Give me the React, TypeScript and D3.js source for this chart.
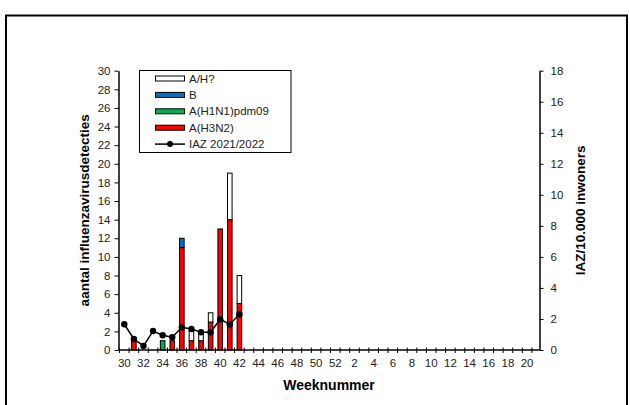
import React, { useEffect, useRef } from "react";
import * as d3 from "d3";

// all weeks on the x axis (season 2021/2022)
const weeks = [
  "30", "31", "32", "33", "34", "35", "36", "37", "38", "39", "40", "41", "42", "43", "44", "45", "46", "47",
  "48", "49", "50", "51", "52", "1", "2", "3", "4", "5", "6", "7", "8", "9", "10", "11", "12", "13", "14",
  "15", "16", "17", "18", "19", "20", "21",
];
const labelWeeks = [
  "30", "32", "34", "36", "38", "40", "42", "44", "46", "48", "50", "52",
  "2", "4", "6", "8", "10", "12", "14", "16", "18", "20",
];

// weeks with reported data
const dataWeeks = ["30", "31", "32", "33", "34", "35", "36", "37", "38", "39", "40", "41", "42"];
const aH3N2 = [0, 1, 0, 0, 0, 1, 11, 1, 1, 3, 13, 14, 5];
const aH1N1 = [0, 0, 0, 0, 1, 0, 0, 0, 0, 0, 0, 0, 0];
const bVals = [0, 0, 0, 0, 0, 0, 1, 0, 0, 0, 0, 0, 0];
const aUnknown = [0, 0, 0, 0, 0, 0, 0, 1, 1, 1, 0, 5, 3];
const iaz = [1.66, 0.71, 0.26, 1.22, 0.95, 0.82, 1.46, 1.35, 1.14, 1.14, 1.98, 1.65, 2.3];

const leftTicks = [0, 2, 4, 6, 8, 10, 12, 14, 16, 18, 20, 22, 24, 26, 28, 30];
const rightTicks = [0, 2, 4, 6, 8, 10, 12, 14, 16, 18];

const seriesKeys = ["aH3N2", "aH1N1", "b", "unknown"];
const seriesColors: Record<string, string> = {
  aH3N2: "#ff0000",
  aH1N1: "#00b050",
  b: "#0070c0",
  unknown: "#ffffff",
};
const legendItems = [
  { label: "A/H?", key: "unknown" },
  { label: "B", key: "b" },
  { label: "A(H1N1)pdm09", key: "aH1N1" },
  { label: "A(H3N2)", key: "aH3N2" },
  { label: "IAZ 2021/2022", key: "line" },
];

const FONT = "'Liberation Sans', Arial, sans-serif";

const App = () => {
  const ref = useRef<SVGSVGElement>(null);

  useEffect(() => {
    const svg = d3.select(ref.current);
    svg.selectAll("*").remove();

    const left = 118.5, right = 539.5, top = 70.7, bottom = 350;

    const x = d3.scaleBand().domain(weeks).range([119.5, 541.5]).paddingInner(0.42).paddingOuter(0.21);
    const yL = d3.scaleLinear().domain([0, 30]).range([bottom, top]);
    const yR = d3.scaleLinear().domain([0, 18]).range([bottom, top]);

    // outer frame
    svg.append("path")
      .attr("d", "M6,405 L6,15.5 L627,15.5 L627,405")
      .attr("fill", "none")
      .attr("stroke", "#000")
      .attr("stroke-width", 2);

    const table = dataWeeks.map((w, i) => ({
      week: w,
      aH3N2: aH3N2[i],
      aH1N1: aH1N1[i],
      b: bVals[i],
      unknown: aUnknown[i],
    }));
    const stacked = d3.stack<any>().keys(seriesKeys)(table);

    const bw = x.bandwidth();
    stacked.forEach((layer) => {
      svg.append("g")
        .selectAll("rect")
        .data(layer.filter((d) => d[1] - d[0] > 0))
        .enter()
        .append("rect")
        .attr("x", (d) => (x(d.data.week) as number) + 0.5)
        .attr("y", (d) => yL(d[1]))
        .attr("width", bw - 1)
        .attr("height", (d) => yL(d[0]) - yL(d[1]))
        .attr("fill", seriesColors[layer.key])
        .attr("stroke", "#000")
        .attr("stroke-width", 1);
    });

    // left axis
    const gL = svg.append("g")
      .attr("transform", `translate(${left},0)`)
      .call(d3.axisLeft(yL).tickValues(leftTicks).tickSize(4).tickSizeOuter(0).tickPadding(4));
    // right axis
    const gR = svg.append("g")
      .attr("transform", `translate(${right},0)`)
      .call(d3.axisRight(yR).tickValues(rightTicks).tickSize(4).tickSizeOuter(0).tickPadding(7));
    // bottom axis
    const gB = svg.append("g")
      .attr("transform", `translate(0,${bottom})`)
      .call(
        d3.axisBottom(x)
          .tickValues(labelWeeks)
          .tickSize(0)
          .tickSizeOuter(0)
          .tickPadding(9)
      );
    gB.select("path").attr("d", `M${left},0H${right}`);
    // category boundary ticks on the bottom axis
    svg.append("g")
      .selectAll("line")
      .data(weeks)
      .enter()
      .append("line")
      .attr("x1", (d) => (x(d) as number) - (x.step() - bw) / 2)
      .attr("x2", (d) => (x(d) as number) - (x.step() - bw) / 2)
      .attr("y1", bottom - 2.5)
      .attr("y2", bottom + 3)
      .attr("stroke", "#000")
      .attr("stroke-width", 1);

    [gL, gR, gB].forEach((g) => {
      g.selectAll("path").attr("stroke", "#000").attr("stroke-width", 1.5);
      g.selectAll("line").attr("stroke", "#000");
      g.selectAll("text").attr("font-family", FONT).attr("font-size", 11.5).attr("fill", "#222");
    });

    // IAZ line
    const pts = dataWeeks.map((w, i) => ({ week: w, v: iaz[i] }));
    const line = d3.line<any>()
      .x((d) => (x(d.week) as number) + bw / 2)
      .y((d) => yR(d.v));
    svg.append("path")
      .datum(pts)
      .attr("d", line)
      .attr("fill", "none")
      .attr("stroke", "#000")
      .attr("stroke-width", 1.5);
    svg.append("g")
      .selectAll("circle")
      .data(pts)
      .enter()
      .append("circle")
      .attr("cx", (d) => (x(d.week) as number) + bw / 2)
      .attr("cy", (d) => yR(d.v))
      .attr("r", 3.2)
      .attr("fill", "#000");

    // axis titles
    svg.append("text")
      .attr("transform", `translate(89,${(top + bottom) / 2}) rotate(-90)`)
      .attr("text-anchor", "middle")
      .attr("font-family", FONT)
      .attr("font-weight", "bold")
      .attr("font-size", 13.5)
      .text("aantal influenzavirusdetecties");
    svg.append("text")
      .attr("transform", `translate(585,${(top + bottom) / 2}) rotate(-90)`)
      .attr("text-anchor", "middle")
      .attr("font-family", FONT)
      .attr("font-weight", "bold")
      .attr("font-size", 13.5)
      .text("IAZ/10.000 inwoners");
    svg.append("text")
      .attr("x", (left + right) / 2)
      .attr("y", 390)
      .attr("text-anchor", "middle")
      .attr("font-family", FONT)
      .attr("font-weight", "bold")
      .attr("font-size", 14)
      .text("Weeknummer");

    // legend
    const lg = svg.append("g");
    lg.append("rect")
      .attr("x", 139.5)
      .attr("y", 70.5)
      .attr("width", 151.5)
      .attr("height", 82)
      .attr("fill", "#fff")
      .attr("stroke", "#000")
      .attr("stroke-width", 1);
    legendItems.forEach((it, i) => {
      const cy = 78.5 + i * 16.4;
      if (it.key === "line") {
        lg.append("line")
          .attr("x1", 155).attr("x2", 185)
          .attr("y1", cy).attr("y2", cy)
          .attr("stroke", "#000").attr("stroke-width", 1.5);
        lg.append("circle").attr("cx", 170).attr("cy", cy).attr("r", 3).attr("fill", "#000");
      } else {
        lg.append("rect")
          .attr("x", 155.5).attr("y", cy - 2.5)
          .attr("width", 29).attr("height", 5)
          .attr("fill", seriesColors[it.key])
          .attr("stroke", "#000").attr("stroke-width", 1);
      }
      lg.append("text")
        .attr("x", 189)
        .attr("y", cy + 4)
        .attr("font-family", FONT)
        .attr("font-size", 11.5)
        .attr("fill", "#222")
        .text(it.label);
    });
  }, []);

  return (
    <svg
      ref={ref}
      width={630}
      height={405}
      style={{ position: "absolute", left: 0, top: 0, background: "#fff" }}
    />
  );
};

export default App;
